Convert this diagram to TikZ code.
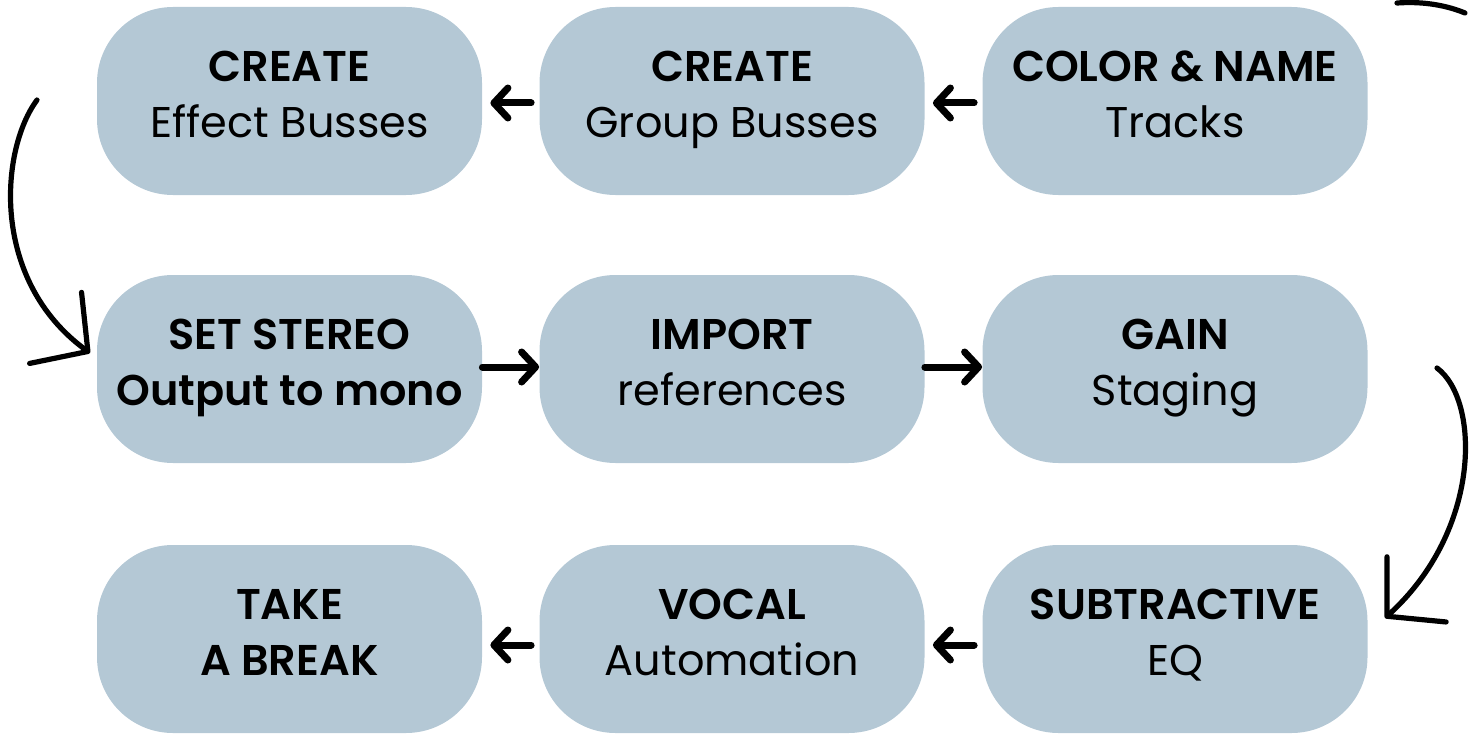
\documentclass[tikz,border=0pt]{standalone}
\usepackage{fontspec}
\setmainfont{Poppins}[BoldFont={Poppins SemiBold}]
\usetikzlibrary{arrows.meta}
\definecolor{stepfill}{RGB}{180,200,213}
\tikzset{
  stepbox/.style={fill=stepfill, draw=none, rounded corners=38pt,
    minimum width=192.5pt, minimum height=94pt, inner sep=0pt,
    text height=36pt, text depth=0pt,
    align=center, text=black, font=\fontsize{21.5}{28}\selectfont},
  flow/.style={line width=3.5pt, line cap=round,
    -{Straight Barb[length=7pt,width=15pt,line cap=round,line join=round]}},
  loop/.style={line width=2.6pt, line cap=round,
    -{Straight Barb[length=20pt,width=44pt,line cap=round,line join=round]}},
}
\begin{document}
\begin{tikzpicture}[x=0.5pt,y=-0.5pt]
\useasboundingbox (0,0) rectangle (1482,733);

% row 1
\node[stepbox] (fx)    at (289.5,101) {\textbf{CREATE}\\Effect Busses};
\node[stepbox] (group) at (732,101)   {\textbf{CREATE}\\Group Busses};
\node[stepbox] (color) at (1175,101)  {\textbf{COLOR \& NAME}\\Tracks};
% row 2
\node[stepbox] (mono)  at (289.5,369) {\textbf{SET STEREO}\\\textbf{Output to mono}};
\node[stepbox] (refs)  at (732,369)   {\textbf{IMPORT}\\references};
\node[stepbox] (gain)  at (1175,369)  {\textbf{GAIN}\\Staging};
% row 3
\node[stepbox] (brk)   at (289.5,639) {\textbf{TAKE}\\\textbf{A BREAK}};
\node[stepbox] (vocal) at (732,639)   {\textbf{VOCAL}\\Automation};
\node[stepbox] (eq)    at (1175,639)  {\textbf{SUBTRACTIVE}\\EQ};

% short arrows between neighbouring steps
\draw[flow] ([xshift=-4pt,yshift=-1pt]group.west) -- ([xshift=4pt,yshift=-1pt]fx.east);
\draw[flow] ([xshift=-4pt,yshift=-1pt]color.west) -- ([xshift=4pt,yshift=-1pt]group.east);
\draw[flow] ([yshift=1pt]mono.east) -- ([yshift=1pt]refs.west);
\draw[flow] ([yshift=1pt]refs.east) -- ([yshift=1pt]gain.west);
\draw[flow] ([xshift=-4pt,yshift=-3pt]eq.west) -- ([xshift=4pt,yshift=-3pt]vocal.east);
\draw[flow] ([xshift=-4pt,yshift=-3pt]vocal.west) -- ([xshift=4pt,yshift=-3pt]brk.east);

% hand-drawn loop arrows between rows
\coordinate (lstart) at (37,100);
\coordinate (lend)   at (90,353);
\draw[loop] (lstart) .. controls (0,150) and (-10,280) .. (lend);

\coordinate (rstart) at (1437,368);
\coordinate (rend)   at (1385,618);
\draw[loop] (rstart) .. controls (1480,400) and (1482,530) .. (rend);

\coordinate (tstart) at (1397,3);
\coordinate (tend)   at (1465,13);
\draw[line width=2.6pt, line cap=round] (tstart) .. controls (1425,1) and (1448,6) .. (tend);
\end{tikzpicture}
\end{document}
